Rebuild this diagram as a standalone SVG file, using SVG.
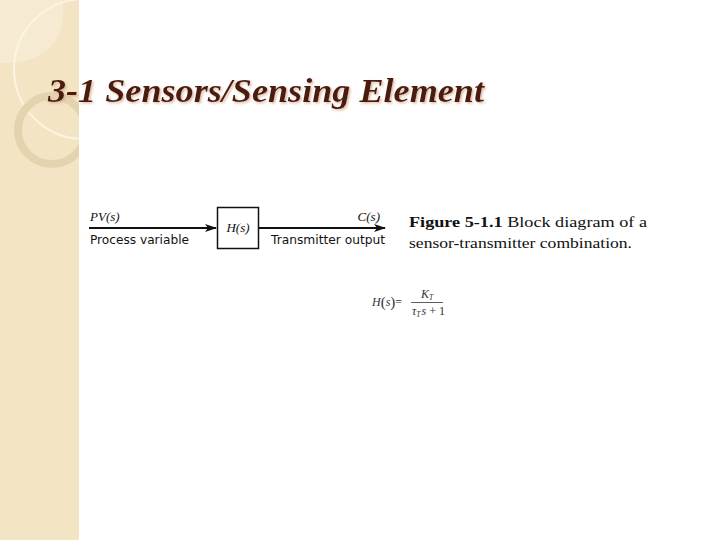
<svg xmlns="http://www.w3.org/2000/svg" width="720" height="540" viewBox="0 0 720 540">
  <style>
    .title { font-family: "Liberation Serif", "DejaVu Serif", serif; font-style: italic; font-weight: bold; font-size: 34px; }
    .math { font-family: "Liberation Serif", "DejaVu Serif", serif; font-style: italic; font-size: 13px; fill: #111; }
    .lbl { font-family: "DejaVu Sans", "Liberation Sans", sans-serif; font-size: 11.5px; fill: #111; }
    .cap { font-family: "Liberation Serif", "DejaVu Serif", serif; font-size: 15.5px; fill: #111; }
    .eq { font-family: "Liberation Serif", "DejaVu Serif", serif; font-style: italic; font-size: 12px; fill: #333; }
    .wire { stroke: #111; stroke-width: 2; fill: none; }
  </style>
  <defs>
    <clipPath id="panelClip"><rect x="0" y="0" width="79" height="540"/></clipPath>
    <marker id="arr" markerWidth="12" markerHeight="8" refX="11" refY="4" orient="auto" markerUnits="userSpaceOnUse">
      <path d="M0,0 L12,4 L0,8 L3,4 Z" fill="#111"/>
    </marker>
    <filter id="shadow" x="-5%" y="-20%" width="110%" height="150%">
      <feDropShadow dx="1.5" dy="1.5" stdDeviation="0.8" flood-color="#D8A890" flood-opacity="0.8"/>
    </filter>
  </defs>
  <rect x="0" y="0" width="720" height="540" fill="#ffffff"/>
  <g id="panel" clip-path="url(#panelClip)">
    <rect x="0" y="0" width="79" height="540" fill="#F3E4C3"/>
    <path d="M0,0 H63 V18 Q60,56 15,63 H0 Z" fill="#F6EBD2"/>
    <circle cx="84" cy="69" r="70" fill="none" stroke="#FBF4E3" stroke-width="2"/>
    <circle cx="52" cy="130" r="34" fill="none" stroke="#E3D3AE" stroke-width="8"/>
  </g>
  <g id="title">
    <text class="title" x="48" y="102" fill="#4A1A10" filter="url(#shadow)" textLength="436" lengthAdjust="spacingAndGlyphs">3-1 Sensors/Sensing Element</text>
  </g>
  <g id="connectors">
    <line class="wire" x1="89" y1="228" x2="216" y2="228" marker-end="url(#arr)"/>
    <line class="wire" x1="258" y1="228" x2="385" y2="228" marker-end="url(#arr)"/>
  </g>
  <g id="input-label">
    <text class="math" x="90" y="221">PV(s)</text>
    <text class="lbl" x="90" y="244" textLength="99" lengthAdjust="spacingAndGlyphs">Process variable</text>
  </g>
  <g id="block-H">
    <rect x="217.5" y="207.5" width="41" height="41" fill="#fff" stroke="#111" stroke-width="1.5"/>
    <text class="math" x="238" y="232" text-anchor="middle">H(s)</text>
  </g>
  <g id="output-label">
    <text class="math" x="380" y="221" text-anchor="end">C(s)</text>
    <text class="lbl" x="271" y="244" textLength="114" lengthAdjust="spacingAndGlyphs">Transmitter output</text>
  </g>
  <g id="caption">
    <text class="cap" x="409" y="227" textLength="238" lengthAdjust="spacingAndGlyphs"><tspan font-weight="bold">Figure 5-1.1</tspan>  Block diagram of a</text>
    <text class="cap" x="409" y="248" textLength="223" lengthAdjust="spacingAndGlyphs">sensor-transmitter combination.</text>
  </g>
  <g id="equation">
    <text class="eq" x="372" y="306">H<tspan font-style="normal" font-size="15" dy="1">(</tspan><tspan dy="-1">s</tspan><tspan font-style="normal" font-size="15" dy="1">)</tspan><tspan font-style="normal" dy="-1">=</tspan></text>
    <line x1="411" y1="302.5" x2="443" y2="302.5" stroke="#333" stroke-width="0.8"/>
    <text class="eq" x="421" y="298">K<tspan font-size="7.5" dy="2">T</tspan></text>
    <text class="eq" x="412" y="315">τ<tspan font-size="7.5" dy="2">T</tspan><tspan dy="-2" dx="1">s</tspan><tspan font-style="normal"> + 1</tspan></text>
  </g>
</svg>
